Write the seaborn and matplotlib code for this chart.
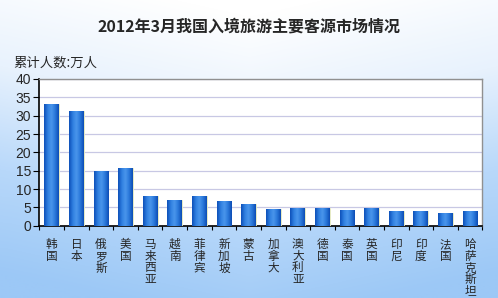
import numpy as np
import pandas as pd
import matplotlib
matplotlib.use("Agg")
import matplotlib.pyplot as plt
import seaborn as sns
from matplotlib.colors import LinearSegmentedColormap

countries = ['韩国', '日本', '俄罗斯', '美国', '马来西亚', '越南', '菲律宾', '新加坡', '蒙古',
             '加拿大', '澳大利亚', '德国', '泰国', '英国', '印尼', '印度', '法国', '哈萨克斯坦']
visitors = [33.3, 31.3, 15.0, 15.8, 8.2, 7.1, 8.2, 6.8, 6.0,
            4.6, 4.9, 4.9, 4.4, 4.9, 4.1, 4.1, 3.5, 4.1]
yticks = [0, 5, 10, 15, 20, 25, 30, 35, 40]

df = pd.DataFrame({'country': countries, 'visitors': visitors})

sns.set_style("white")
plt.rcParams['font.family'] = ['Noto Sans CJK SC', 'DejaVu Sans']

fig = plt.figure(figsize=(4.98, 2.98), dpi=100)

# background gradient: white at top, light blue towards bottom and sides
bg = fig.add_axes([0, 0, 1, 1], zorder=-10)
yy, xx = np.mgrid[0:1:300j, 0:1:500j]
t = np.clip(yy * 0.95 + np.abs(xx - 0.5) * 0.35 - 0.05, 0, 1)
bg_cmap = LinearSegmentedColormap.from_list('bg', ['#ffffff', '#e8f2fd', '#b8d8fa', '#9cc8f6'])
bg.imshow(t, cmap=bg_cmap, aspect='auto', extent=[0, 1, 0, 1], origin='upper', vmin=0, vmax=1)
bg.set_axis_off()

ax = fig.add_axes([0.0793, 0.2426, 0.8892, 0.4923])
ax.set_facecolor('white')
sns.barplot(data=df, x='country', y='visitors', color='#2a74d8', width=0.6,
            edgecolor='#f4f4c0', linewidth=0.6, ax=ax, zorder=3)

# cylinder-like gradient inside each bar
bar_cmap = LinearSegmentedColormap.from_list('bar', ['#0d4fb8', '#2f7fe0', '#4a96ec', '#2a78da', '#0c4cb4'])
grad = np.linspace(0, 1, 64).reshape(1, -1)
for p in ax.patches:
    x0, y0 = p.get_x(), p.get_y()
    w, h = p.get_width(), p.get_height()
    im = ax.imshow(grad, cmap=bar_cmap, aspect='auto', extent=[x0, x0 + w, y0, y0 + h],
                   zorder=3.5, interpolation='bicubic')
    im.set_clip_path(p)

ax.set_xlim(-0.5, len(countries) - 0.5)
ax.set_ylim(0, 40)
ax.set_yticks(yticks)
ax.yaxis.grid(True, color='#c8c8e4', linewidth=0.9, zorder=0)
ax.set_axisbelow(True)

ax.set_xticks(range(len(countries)))
ax.set_xticklabels(['\n'.join(c) for c in countries], va='top', linespacing=0.86)
ax.set_xticks(np.arange(-0.5, len(countries), 1), minor=True)
ax.tick_params(axis='x', which='major', length=0, pad=9, labelsize=8.4)
ax.tick_params(axis='x', which='minor', length=3, width=0.8, color='black', direction='out', bottom=True)
ax.tick_params(axis='y', length=4, width=0.8, color='black', direction='out', left=True,
               labelsize=10, pad=2)
for lbl in ax.get_yticklabels():
    lbl.set_fontfamily(['Liberation Sans', 'DejaVu Sans'])

ax.set_xlabel('')
ax.set_ylabel('')
for s in ['top', 'right']:
    ax.spines[s].set_color('#909090')
    ax.spines[s].set_linewidth(1.0)
for s in ['left', 'bottom']:
    ax.spines[s].set_color('black')
    ax.spines[s].set_linewidth(1.2)

fig.text(0.5, 0.91, '2012年3月我国入境旅游主要客源市场情况', ha='center', va='center',
         fontsize=11.5, fontweight='bold')
fig.text(0.026, 0.79, '累计人数:万人', ha='left', va='center', fontsize=9.6)

fig.savefig('out.png', dpi=100)
